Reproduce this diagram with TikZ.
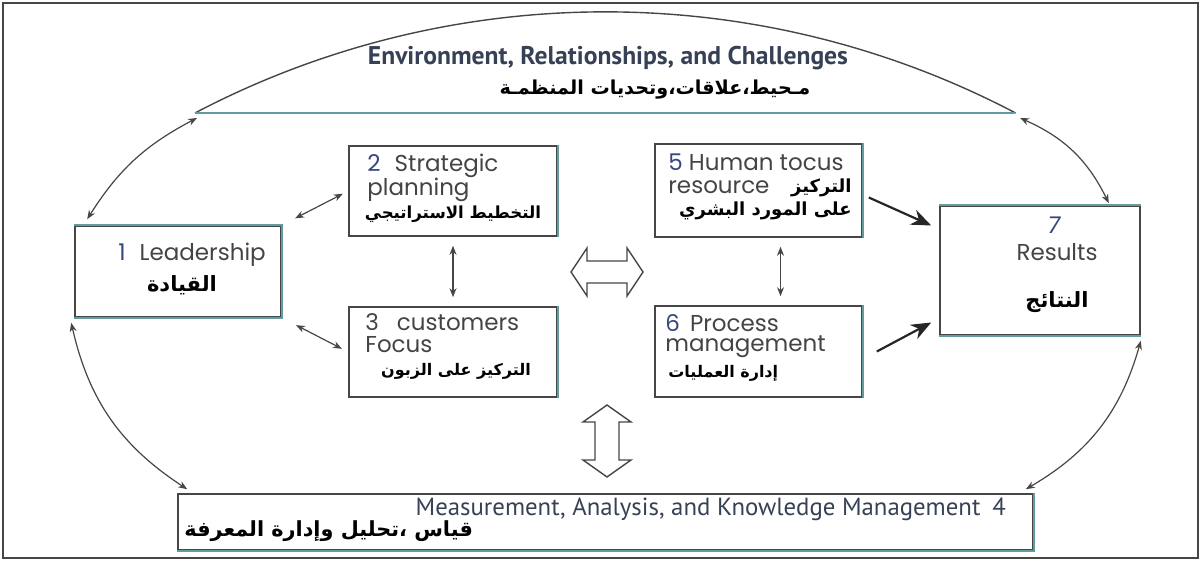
\documentclass[tikz,border=0pt]{standalone}
\usepackage{fontspec}
\usetikzlibrary{arrows.meta,fit}
\newfontfamily\boxfont{Poppins}
\newfontfamily\bannerfont{PT Sans}
\newfontfamily\arabicfont[Script=Arabic]{DejaVu Sans}
\TeXXeTstate=1
\definecolor{edgeteal}{RGB}{98,156,158}
\definecolor{framegray}{RGB}{70,70,70}
\definecolor{numblue}{RGB}{55,70,125}
\definecolor{txtgray}{RGB}{68,68,68}
\definecolor{bannerblue}{RGB}{55,65,85}
\newcommand{\arabtxt}[1]{{\arabicfont\bfseries\beginR #1\endR}}

\begin{document}
\begin{tikzpicture}[x=0.5pt,y=-0.5pt,
    box/.style={draw=framegray,line width=0.8pt,inner sep=0pt},
    en/.style={font=\boxfont\fontsize{11.5}{13}\selectfont,text=txtgray,inner sep=0pt},
    arab/.style={font=\fontsize{9}{11}\selectfont,inner sep=0pt},
    link/.style={{Stealth[length=4.5pt,width=3.5pt]}-{Stealth[length=4.5pt,width=3.5pt]},line width=0.6pt,draw=framegray},
    feed/.style={-{Stealth[length=10pt,width=8pt]},line width=1.1pt,draw=black!85},
    hollow/.style={draw=framegray,line width=0.7pt,fill=white}]
    \useasboundingbox (0,0) rectangle (1202,565);
    \draw[framegray,line width=0.8pt] (3,3) rectangle (1198,558);

    % environment banner on top
    \coordinate (envL) at (195,113);
    \coordinate (envR) at (1015,113);
    \draw[framegray,line width=0.7pt] (envL) arc[start angle=117.7,end angle=62.3,radius=441.35pt];
    \draw[edgeteal,line width=1pt] (envL) -- (envR);
    \node[font=\bannerfont\bfseries\fontsize{12.8}{14}\selectfont,text=bannerblue] (envtxt) at (608,58)
      {Environment, Relationships, and Challenges};
    \node[arab,font=\fontsize{9.6}{11}\selectfont] (envar) at (655,90) {\arabtxt{مـحيط،علاقات،وتحديات المنظمـة}};

    % measurement banner at the bottom
    \node[box,fit={(178,494) (1033,550)}] (meas) {};
    \node[font=\bannerfont\fontsize{12.4}{14}\selectfont,text=bannerblue,anchor=east] (meastxt) at (1013,509)
      {Measurement, Analysis, and Knowledge Management\hspace{6pt}4};
    \node[arab,font=\fontsize{10.4}{12}\selectfont,anchor=west] (measar) at (184,531) {\arabtxt{قياس ،تحليل وإدارة المعرفة}};

    % criteria boxes
    \node[box,fit={(75,226) (281,317)}] (lead) {};
    \node[box,fit={(349,146) (557,236)}] (strat) {};
    \node[box,fit={(349,307) (557,397)}] (cust) {};
    \node[box,fit={(655,144) (862,237)}] (human) {};
    \node[box,fit={(655,306) (862,397)}] (proc) {};
    \node[box,fit={(940,206) (1140,335)}] (res) {};
    \foreach \b in {strat,cust,human,proc}
      \draw[edgeteal,line width=1pt] (\b.north east) -- (\b.south east);
    \draw[edgeteal,line width=1pt] (lead.north west) -- (lead.north east) -- (lead.south east) -- (lead.south west);
    \draw[edgeteal,line width=1pt] (res.north west) -- (res.north east) (res.south west) -- (res.south east);
    \draw[edgeteal,line width=1pt] (meas.south west) -- (meas.south east) -- (meas.north east);

    \node[en] (leadtxt) at (192,255) {{\color{numblue}1}\hspace{7pt}Leadership};
    \node[arab,font=\fontsize{10.5}{12}\selectfont] (leadar) at (182,285) {\arabtxt{القيادة}};
    \node[en,anchor=west] (strat1) at (367,166) {{\color{numblue}2}\hspace{7pt}Strategic};
    \node[en,anchor=west] (strat2) at (367,190) {planning};
    \node[arab,font=\fontsize{8.3}{10}\selectfont] (stratar) at (453,214) {\arabtxt{التخطيط الاستراتيجي}};
    \node[en,anchor=west] (cust1) at (365,322) {3\hspace{9pt}customers};
    \node[en,anchor=west] (cust2) at (365,345) {Focus};
    \node[arab,font=\fontsize{8}{10}\selectfont] (custar) at (456,371) {\arabtxt{التركيز على الزبون}};
    \node[en,anchor=west] (human1) at (668,162) {{\color{numblue}5} Human tocus};
    \node[en,anchor=west] (human2) at (668,187) {resource};
    \node[arab,anchor=east] (human2ar) at (852,188) {\arabtxt{التركيز}};
    \node[arab,anchor=east] (human3ar) at (852,211) {\arabtxt{على المورد البشري}};
    \node[en,anchor=west] (proc1) at (665,323) {{\color{numblue}6}\hspace{5pt}Process};
    \node[en,anchor=west] (proc2) at (665,347) {management};
    \node[arab,font=\fontsize{8}{10}\selectfont,anchor=west] (procar) at (668,373) {\arabtxt{إدارة العمليات}};
    \node[en,text=numblue] (res1) at (1054,225) {\itshape 7};
    \node[en] (res2) at (1057,252) {Results};
    \node[arab,font=\fontsize{10.5}{12}\selectfont] (resar) at (1057,302) {\arabtxt{النتائج}};

    % links between the boxes
    \draw[link,shorten <=7.5pt,shorten >=3pt] (lead.north east) -- (strat.west);
    \draw[link,shorten <=8pt,shorten >=3.5pt] (lead.south east) -- (cust.west);
    \draw[link,shorten <=4.5pt,shorten >=4.5pt] (strat.south) -- (cust.north);
    \draw[link,shorten <=4.5pt,shorten >=4.5pt] ([xshift=11pt]human.south) -- ([xshift=11pt]proc.north);
    \draw[feed] ([shift={(6,7)}]human.east) -- ([shift={(-8,-45)}]res.west);
    \draw[feed] ([xshift=7pt]proc.east) -- ([shift={(-8,52)}]res.west);

    % outer ring of curved links
    \draw[link] ([shift={(13,-6)}]lead.north west) to[bend left=15] ([shift={(2,5)}]envL);
    \draw[link] ([shift={(-3,5)}]lead.south west) to[bend right=22] ([shift={(10,-4)}]meas.north west);
    \draw[link] ([shift={(5,5)}]envR) to[bend left=20] ([shift={(-32,-2)}]res.north east);
    \draw[link] ([shift={(0,5)}]res.south east) to[bend left=22] ([shift={(-8,-4)}]meas.north east);

    % hollow block arrows in the middle
    \draw[hollow] (571,272) -- (587,248) -- (587,261) -- (627,261) -- (627,248) -- (643,272)
      -- (627,296) -- (627,283) -- (587,283) -- (587,296) -- cycle;
    \draw[hollow] (607,405) -- (631,422) -- (619,422) -- (619,460) -- (631,460) -- (607,477)
      -- (583,460) -- (595,460) -- (595,422) -- (583,422) -- cycle;
  \end{tikzpicture}
\end{document}
